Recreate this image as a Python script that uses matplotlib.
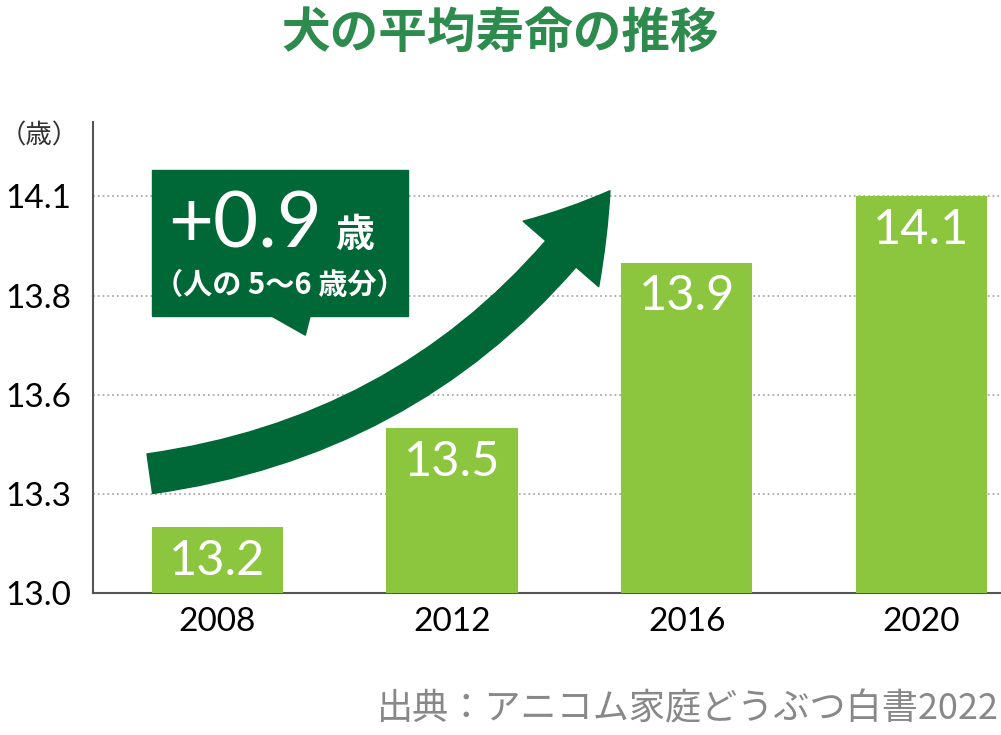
import numpy as np
import matplotlib.pyplot as plt
from matplotlib.patches import FancyArrowPatch, Rectangle, Polygon

plt.rcParams['font.family'] = ['Noto Sans CJK JP', 'DejaVu Sans']

# data
years = ['2008', '2012', '2016', '2020']
life = [13.2, 13.5, 13.9, 14.1]
tick_vals = [13.0, 13.3, 13.6, 13.8, 14.1]
tick_labels = ['13.0', '13.3', '13.6', '13.8', '14.1']

GREEN = '#8cc63f'
DARK = '#006837'

fig = plt.figure(figsize=(10.01, 7.35), dpi=100)
ax = fig.add_axes([0.093, 0.193, 0.907, 0.641])

# y ticks evenly spaced in the source, so map values onto tick index
heights = np.interp(life, tick_vals, range(len(tick_vals)))
x = np.arange(len(years))
ax.bar(x, heights, width=0.56, color=GREEN, zorder=3)
for xi, h, v in zip(x, heights, life):
    ax.text(xi, h - 0.12, f'{v}', ha='center', va='top', color='white',
            fontsize=35, family='Lato', zorder=4)

ax.set_xlim(-0.53, 3.34)
ax.set_ylim(0, 4.75)
ax.set_yticks(range(len(tick_vals)))
ax.set_yticklabels(tick_labels, family='Lato', fontsize=24)
ax.set_xticks(x)
ax.set_xticklabels(years, family='Lato', fontsize=24)
ax.tick_params(length=0, pad=10)
ax.tick_params(axis='y', pad=16)
ax.grid(axis='y', linestyle=':', color='#aaaaaa', linewidth=1.3, zorder=0)
for s in ['top', 'right']:
    ax.spines[s].set_visible(False)
for s in ['left', 'bottom']:
    ax.spines[s].set_color('#555555')
    ax.spines[s].set_linewidth(1.5)

# growth arrow
arr = FancyArrowPatch((-0.3, 1.2), (1.68, 4.08), connectionstyle='arc3,rad=0.22',
                      arrowstyle='simple,head_width=4.0,head_length=3.2,tail_width=1.6',
                      mutation_scale=18, color=DARK, zorder=5)
ax.add_patch(arr)

# callout box
fig.patches.append(Rectangle((0.152, 0.570), 0.256, 0.199, transform=fig.transFigure,
                             color=DARK, zorder=6))
fig.patches.append(Polygon([(0.27, 0.571), (0.305, 0.544), (0.31, 0.571)],
                           transform=fig.transFigure, color=DARK, zorder=6))
fig.text(0.168, 0.693, '+0.9', color='white', fontsize=56, family='Lato',
         va='center', ha='left', zorder=7)
fig.text(0.335, 0.68, '歳', color='white', fontsize=28, fontweight='bold',
         va='center', ha='left', zorder=7)
fig.text(0.28, 0.612, '（人の 5〜6 歳分）', color='white', fontsize=21,
         fontweight='bold', va='center', ha='center', zorder=7)

fig.text(0.0, 0.815, '（歳）', fontsize=19, color='#333333', va='center')
fig.text(0.5, 0.955, '犬の平均寿命の推移', fontsize=35, fontweight='bold',
         color='#2e8b4e', ha='center', va='center')
fig.text(0.998, 0.035, '出典：アニコム家庭どうぶつ白書2022', fontsize=26,
         color='#888888', ha='right', va='center')

fig.savefig('out.png', dpi=100)
